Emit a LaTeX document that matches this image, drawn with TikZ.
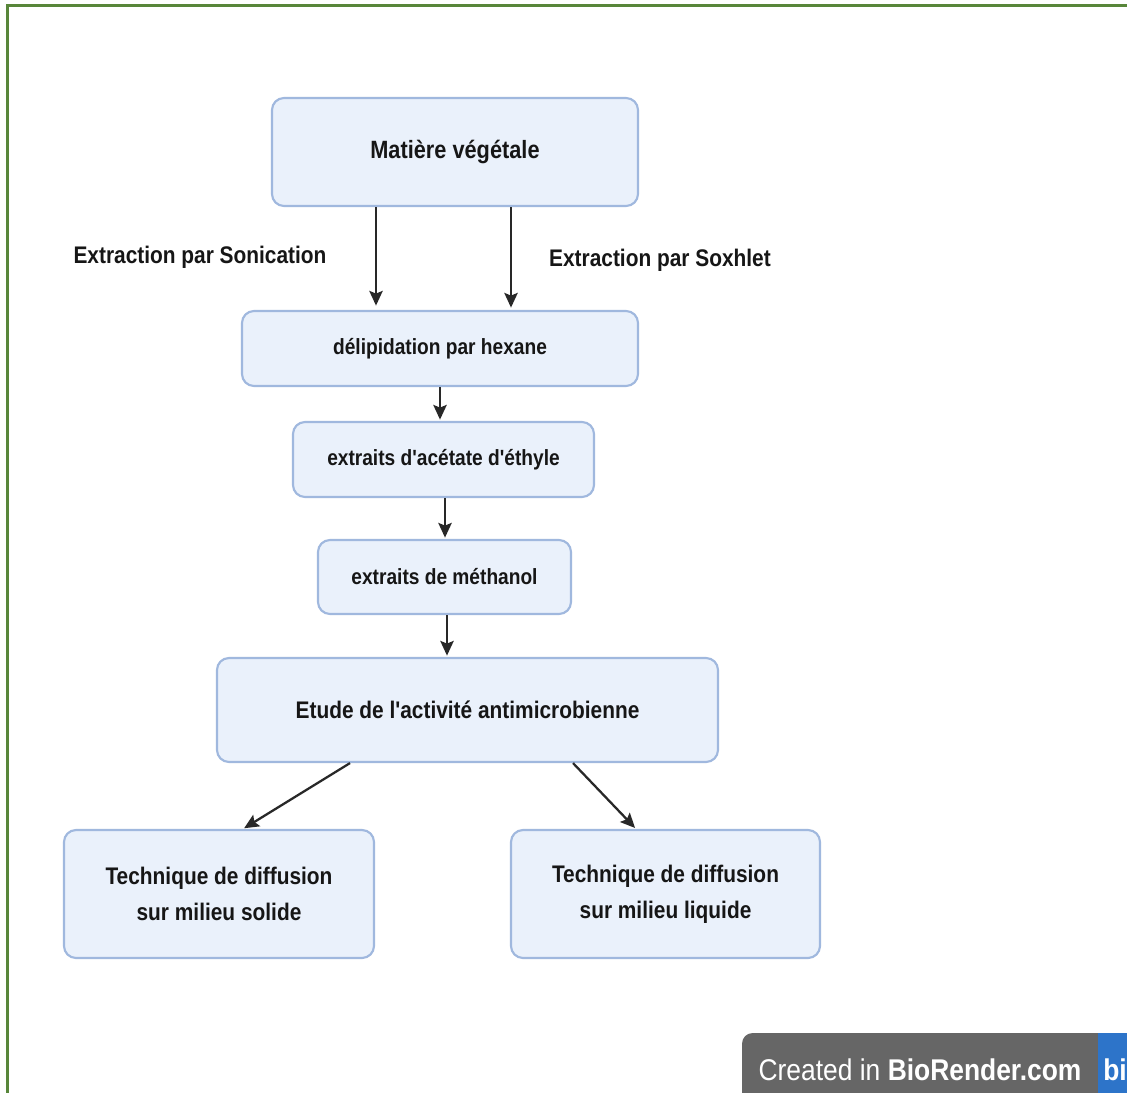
\documentclass[tikz,border=0pt]{standalone}
\usepackage{fontspec}
\setmainfont{Liberation Sans}[FakeStretch=0.87,Ligatures=TeXOff]
\newfontfamily\badgefont{Liberation Sans}[FakeStretch=0.88]
\usetikzlibrary{arrows.meta,calc}
\definecolor{boxfill}{RGB}{234,241,251}
\definecolor{boxline}{RGB}{160,184,222}
\definecolor{arrowc}{RGB}{40,40,40}
\definecolor{framec}{RGB}{88,134,58}
\definecolor{txt}{RGB}{22,22,22}
\definecolor{badgegray}{RGB}{102,102,102}
\definecolor{badgeblue}{RGB}{45,116,201}
\tikzset{
  procbox/.style={draw=boxline, line width=1.6pt, fill=boxfill, rounded corners=9pt,
    inner sep=0pt, align=center, text=txt, font=\bfseries},
  flowarrow/.style={draw=arrowc, line width=1.7pt,
    -{Stealth[length=11pt,width=10pt,inset=2pt]}, shorten >=1pt},
  lbl/.style={text=txt, font=\bfseries, inner sep=0pt}
}
\begin{document}
\begin{tikzpicture}[x=0.75pt,y=-0.75pt]
\useasboundingbox (0,0) rectangle (1127,1092);
\clip (0,0) rectangle (1127,1092);
\fill[white] (0,0) rectangle (1127,1092);
% frame
\draw[framec, line width=2.2pt] (7.5,1100) -- (7.5,5.5) -- (1135,5.5);
% boxes
\node[procbox, minimum width=274.5pt, minimum height=81pt, font=\bfseries\fontsize{18.75pt}{22pt}\selectfont] (mat) at (455,152) {Matière végétale};
\node[procbox, minimum width=297pt, minimum height=56.25pt, font=\bfseries\fontsize{16.5pt}{19pt}\selectfont] (del) at (440,348.5) {délipidation par hexane};
\node[procbox, minimum width=225.75pt, minimum height=56.25pt, font=\bfseries\fontsize{16.5pt}{19pt}\selectfont] (ace) at (443.5,459.5) {extraits d'acétate d'éthyle};
\node[procbox, minimum width=189.75pt, minimum height=55.5pt, font=\bfseries\fontsize{16.5pt}{19pt}\selectfont] (met) at (444.5,577) {extraits de méthanol};
\node[procbox, minimum width=375.75pt, minimum height=78pt, font=\bfseries\fontsize{18pt}{21pt}\selectfont] (etu) at (467.5,710) {Etude de l'activité antimicrobienne};
\node[procbox, minimum width=232.5pt, minimum height=96pt, font=\bfseries\fontsize{18pt}{27pt}\selectfont] (sol) at (219,894) {Technique de diffusion\\sur milieu solide};
\node[procbox, minimum width=231.75pt, minimum height=96pt, font=\bfseries\fontsize{18pt}{27pt}\selectfont] (liq) at (665.5,894) {Technique de diffusion\\sur milieu liquide};
% labels
\node[lbl, font=\bfseries\fontsize{18pt}{21pt}\selectfont] (son) at (200,257) {Extraction par Sonication};
\node[lbl, font=\bfseries\fontsize{18pt}{21pt}\selectfont] (sox) at (660,260) {Extraction par Soxhlet};
% arrows
\draw[flowarrow] ($(mat.south)+(-79,0)$) -- ($(del.north)+(-64,-3)$);
\draw[flowarrow] ($(mat.south)+(56,0)$) -- ($(del.north)+(71,-1)$);
\draw[flowarrow] (del.south) -- (del.south |- ace.north);
\draw[flowarrow] ($(ace.south)+(1.5,0)$) -- ($(ace.south |- met.north)+(1.5,0)$);
\draw[flowarrow] ($(met.south)+(2.5,0)$) -- ($(met.south |- etu.north)+(2.5,0)$);
\draw[flowarrow] ($(etu.south)+(-117.5,0)$) -- ($(sol.north)+(24,0)$);
\draw[flowarrow] ($(etu.south)+(105.5,0)$) -- ($(liq.north)+(-29.5,0)$);
% badge
\node[fill=badgegray, rounded corners=8pt, minimum width=277.5pt, minimum height=52.5pt, inner sep=0pt] (badge) at (927,1068) {};
\node[fill=badgeblue, minimum width=30pt, minimum height=52.5pt, inner sep=0pt] (bluebox) at (1118,1068) {};
\node[text=white, inner sep=0pt, font=\badgefont\fontsize{22.5pt}{25pt}\selectfont] (badgetxt) at (920,1070) {Created in \textbf{BioRender.com}};
\node[text=white, inner sep=0pt, anchor=west, font=\badgefont\bfseries\fontsize{22.5pt}{25pt}\selectfont] (bitxt) at (1103,1070) {bi};
\end{tikzpicture}
\end{document}
